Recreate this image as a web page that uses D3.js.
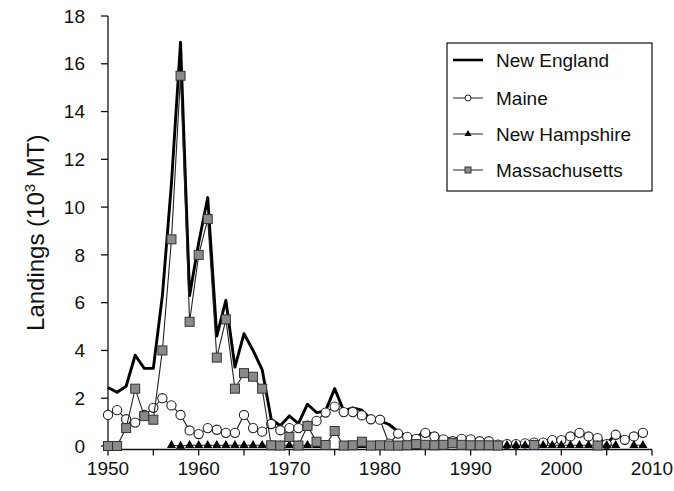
<!DOCTYPE html>
<html><head><meta charset="utf-8">
<script src="https://cdn.jsdelivr.net/npm/d3@7"></script>
<style>
body{margin:0;background:#fff;}
svg text{font-family:"Liberation Sans",Arial,sans-serif;fill:#111;}
</style></head>
<body><svg id="c" width="674" height="491"></svg>
<script>
const years = [1950,1951,1952,1953,1954,1955,1956,1957,1958,1959,
1960,1961,1962,1963,1964,1965,1966,1967,1968,1969,
1970,1971,1972,1973,1974,1975,1976,1977,1978,1979,
1980,1981,1982,1983,1984,1985,1986,1987,1988,1989,
1990,1991,1992,1993,1994,1995,1996,1997,1998,1999,
2000,2001,2002,2003,2004,2005,2006,2007,2008,2009];
const newEngland = [2.45,2.25,2.5,3.8,3.25,3.25,6.3,11.0,16.9,6.3,
8.5,10.4,4.6,6.1,3.3,4.7,4.0,3.2,1.12,0.85,
1.26,0.94,1.75,1.4,1.47,2.4,1.47,1.6,1.5,1.12,
1.05,0.9,0.6,0.4,0.38,0.6,0.45,0.32,0.3,0.33,
0.3,0.22,0.22,0.1,0.12,0.12,0.14,0.2,0.18,0.28,
0.28,0.42,0.56,0.42,0.36,0.08,0.5,0.28,0.42,0.56];
const maine = [1.3,1.5,1.12,0.98,1.3,1.6,2.0,1.7,1.3,0.65,
0.5,0.75,0.68,0.55,0.55,1.3,0.75,0.6,0.92,0.66,
0.75,0.75,0.85,1.05,1.4,1.65,1.42,1.42,1.28,1.12,
1.1,0.1,0.52,0.38,0.3,0.55,0.4,0.28,0.2,0.3,
0.28,0.2,0.2,0.06,0.08,0.08,0.11,0.14,0.14,0.25,
0.25,0.4,0.55,0.4,0.33,0.08,0.47,0.26,0.4,0.55];
const newHampshire = [null,null,null,null,null,null,null,0.03,0,0.03,
0.03,0.03,0.03,0.03,0.03,0.03,0.03,0.03,0.03,0.03,
0.03,0.03,0.03,0.03,null,null,null,null,0.03,null,
null,null,null,null,null,null,null,null,null,null,
null,null,null,null,0.03,0.03,0.03,0.03,0.03,0.03,
0.03,0.03,0.03,0.03,0.03,0.03,0.03,null,0.03,0.03];
const massachusetts = [0,0,0.75,2.4,1.25,1.1,4.0,8.65,15.5,5.2,
8.0,9.5,3.7,5.3,2.4,3.05,2.9,2.4,0.03,0.02,
0.38,0.02,0.84,0.18,0.04,0.63,0.02,0.03,0.18,0.02,
0.03,0.02,0.02,0.03,0.08,0.05,0.03,0.05,0.12,0.05,
0.03,0.03,0.03,0.02,null,null,null,0.04,null,null,
null,null,null,null,0.02,null,null,null,null,null];
const yTicks = [0,2,4,6,8,10,12,14,16,18];
const xMinorTicks = [1950,1955,1960,1965,1970,1975,1980,1985,1990,1995,2000,2005,2010];
const xLabelTicks = [1950,1960,1970,1980,1990,2000,2010];
const legendNames = ["New England","Maine","New Hampshire","Massachusetts"];

const svg = d3.select("#c");
const x = d3.scaleLinear().domain([1950,2010]).range([108,652]);
const y = d3.scaleLinear().domain([0,18]).range([446,16]);
const yBottom = 449.5;

// axes
const gy = svg.append("g").attr("transform","translate(108,0)");
gy.append("line").attr("x1",0).attr("x2",0).attr("y1",y(18)).attr("y2",yBottom).attr("stroke","#111").attr("stroke-width",1.3);
gy.selectAll("line.t").data(yTicks).enter().append("line").attr("class","t")
  .attr("x1",-7).attr("x2",0).attr("y1",d=>y(d)).attr("y2",d=>y(d)).attr("stroke","#111").attr("stroke-width",1.3);
gy.selectAll("text").data(yTicks).enter().append("text")
  .attr("x",-23).attr("y",d=>y(d)).attr("dy","0.35em").attr("text-anchor","end")
  .attr("font-size",19).text(d=>d);

const gx = svg.append("g").attr("transform",`translate(0,${yBottom})`);
gx.append("line").attr("x1",x(1950)).attr("x2",x(2010)).attr("y1",0).attr("y2",0).attr("stroke","#111").attr("stroke-width",1.3);
gx.selectAll("line.t").data(xMinorTicks).enter().append("line").attr("class","t")
  .attr("x1",d=>x(d)).attr("x2",d=>x(d)).attr("y1",0).attr("y2",6).attr("stroke","#111").attr("stroke-width",1.3);
gx.selectAll("text").data(xLabelTicks).enter().append("text")
  .attr("x",d=>x(d)).attr("y",25).attr("text-anchor","middle").attr("font-size",19).text(d=>d);

// y title
svg.append("text").attr("transform",`translate(44,${(y(18)+yBottom)/2}) rotate(-90)`)
  .attr("text-anchor","middle").attr("font-size",24)
  .html('Landings (10<tspan dy="-9" font-size="15">3</tspan><tspan dy="9"> MT)</tspan>');

const mk = arr => years.map((yr,i)=>({yr, v:arr[i]}));
const line = d3.line().defined(d=>d.v!==null).x(d=>x(d.yr)).y(d=>y(d.v));

const neD = mk(newEngland), meD = mk(maine), nhD = mk(newHampshire), maD = mk(massachusetts);

svg.append("path").datum(neD).attr("d",line).attr("fill","none").attr("stroke","#000").attr("stroke-width",2.9).attr("stroke-linejoin","round");
svg.append("path").datum(meD).attr("d",line).attr("fill","none").attr("stroke","#222").attr("stroke-width",1.1);
svg.selectAll("circle.me").data(meD.filter(d=>d.v!==null)).enter().append("circle").attr("class","me")
  .attr("cx",d=>x(d.yr)).attr("cy",d=>y(d.v)).attr("r",4.6).attr("fill","#fff").attr("stroke","#222").attr("stroke-width",1.1);
svg.append("path").datum(nhD).attr("d",line).attr("fill","none").attr("stroke","#222").attr("stroke-width",1.1);
const tri = d3.symbol().type(d3.symbolTriangle).size(36);
svg.selectAll("path.nh").data(nhD.filter(d=>d.v!==null)).enter().append("path").attr("class","nh")
  .attr("d",tri).attr("transform",d=>`translate(${x(d.yr)},${y(d.v)})`).attr("fill","#000");
svg.append("path").datum(maD).attr("d",line).attr("fill","none").attr("stroke","#222").attr("stroke-width",1.1);
svg.selectAll("rect.ma").data(maD.filter(d=>d.v!==null)).enter().append("rect").attr("class","ma")
  .attr("x",d=>x(d.yr)-4.5).attr("y",d=>y(d.v)-4.5).attr("width",9).attr("height",9)
  .attr("fill","#8a8a8a").attr("stroke","#333").attr("stroke-width",1);

// legend
const lg = svg.append("g");
lg.append("rect").attr("x",447).attr("y",43).attr("width",205).attr("height",148).attr("fill","#fff").attr("stroke","#111").attr("stroke-width",1.2);
const rowY = [60,98,134,170];
legendNames.forEach((n,i)=>{
  const ry = rowY[i];
  lg.append("line").attr("x1",453).attr("x2",483).attr("y1",ry).attr("y2",ry)
    .attr("stroke",i===0?"#000":"#222").attr("stroke-width",i===0?2.6:1);
  if(i===1) lg.append("circle").attr("cx",468).attr("cy",ry).attr("r",3).attr("fill","#fff").attr("stroke","#222");
  if(i===2) lg.append("path").attr("d",d3.symbol().type(d3.symbolTriangle).size(22)).attr("transform",`translate(468,${ry})`).attr("fill","#000");
  if(i===3) lg.append("rect").attr("x",465).attr("y",ry-3).attr("width",6).attr("height",6).attr("fill","#8a8a8a").attr("stroke","#333");
  lg.append("text").attr("x",496).attr("y",ry).attr("dy","0.35em").attr("font-size",19).text(n);
});
</script></body></html>
